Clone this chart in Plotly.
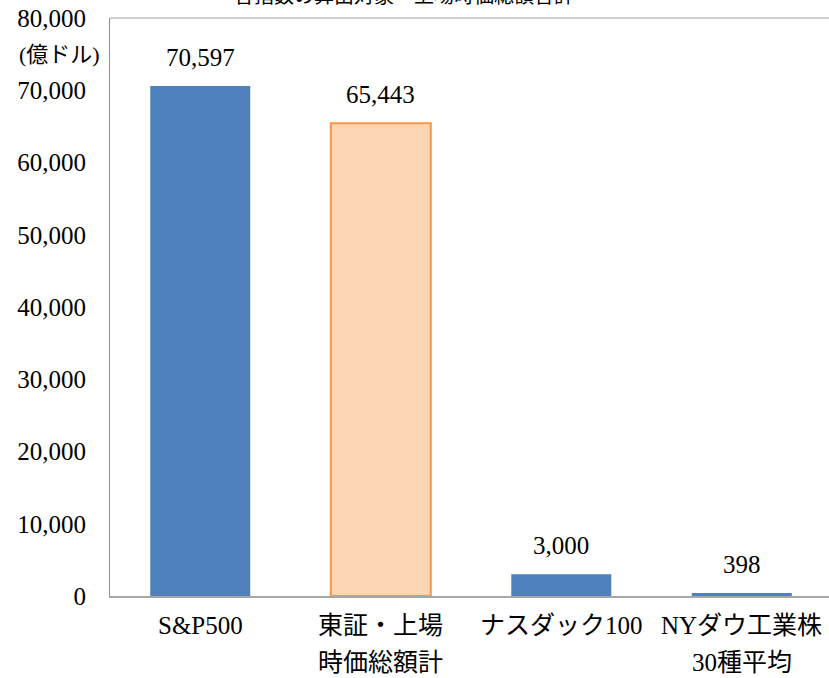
import plotly.graph_objects as go

categories = ["S&P500", "東証・上場<br>時価総額計", "ナスダック100", "NYダウ工業株<br>30種平均"]
values = [70597, 65443, 3000, 398]
value_labels = ["70,597", "65,443", "3,000", "398"]
y_tickvals = [0, 10000, 20000, 30000, 40000, 50000, 60000, 70000, 80000]
y_ticktext = ["0", "10,000", "20,000", "30,000", "40,000", "50,000", "60,000", "70,000", "80,000"]
unit_label = "(億ドル)"
title_text = "各指数の算出対象・上場時価総額合計"

fill_colors = ["#4F81BD", "#FCD5B5", "#4F81BD", "#4F81BD"]
line_colors = ["#4F81BD", "#F79646", "#4F81BD", "#4F81BD"]
line_widths = [0, 2, 0, 0]

xs = list(range(len(categories)))

FONT = "Liberation Serif, 'Noto Sans CJK JP', serif"

fig = go.Figure()
fig.add_trace(go.Bar(
    x=xs, y=values,
    marker=dict(color=fill_colors, line=dict(color=line_colors, width=line_widths)),
    width=0.554,
    hoverinfo="skip",
))

annotations = []
for x, v, t in zip(xs, values, value_labels):
    annotations.append(dict(x=x, y=v, xref="x", yref="y", text=t, showarrow=False,
                            yanchor="bottom", yshift=13,
                            font=dict(family=FONT, size=25, color="#000")))

for x, cat in zip(xs, categories):
    for i, line in enumerate(cat.split("<br>")):
        annotations.append(dict(x=x, y=0, xref="x", yref="paper", text=line, showarrow=False,
                                yanchor="top", yshift=-14 - i * 37,
                                font=dict(family=FONT, size=25, color="#000")))

annotations.append(dict(x=0, y=75000, xref="paper", yref="y", text=unit_label, showarrow=False,
                        xanchor="right", xshift=-8,
                        font=dict(family=FONT, size=22, color="#000")))
annotations.append(dict(x=0.409, y=1, xref="paper", yref="paper", text=title_text, showarrow=False,
                        yanchor="bottom", yshift=9,
                        font=dict(family=FONT, size=20, color="#000")))

fig.update_layout(
    width=829, height=678,
    margin=dict(l=110, r=0, t=18, b=82),
    paper_bgcolor="white", plot_bgcolor="white",
    showlegend=False,
    annotations=annotations,
    shapes=[dict(type="line", xref="paper", yref="paper", x0=0, x1=1, y0=1, y1=1,
                 line=dict(color="#A0A0A0", width=1))],
    xaxis=dict(range=[-0.5, 3.483], tickvals=xs, showticklabels=False, ticks="",
               showline=True, linecolor="#A6A6A6", linewidth=2, showgrid=False, zeroline=False,
               fixedrange=True),
    yaxis=dict(range=[0, 80000], tickvals=y_tickvals, ticktext=y_ticktext, ticks="",
               showline=True, linecolor="#8C8C8C", linewidth=1, showgrid=False, zeroline=False,
               ticklabelstandoff=18,
               tickfont=dict(family=FONT, size=25, color="#000"), fixedrange=True),
)

fig.write_html("out.html", config={"displayModeBar": False},
               post_script="document.body.style.margin='0';")
